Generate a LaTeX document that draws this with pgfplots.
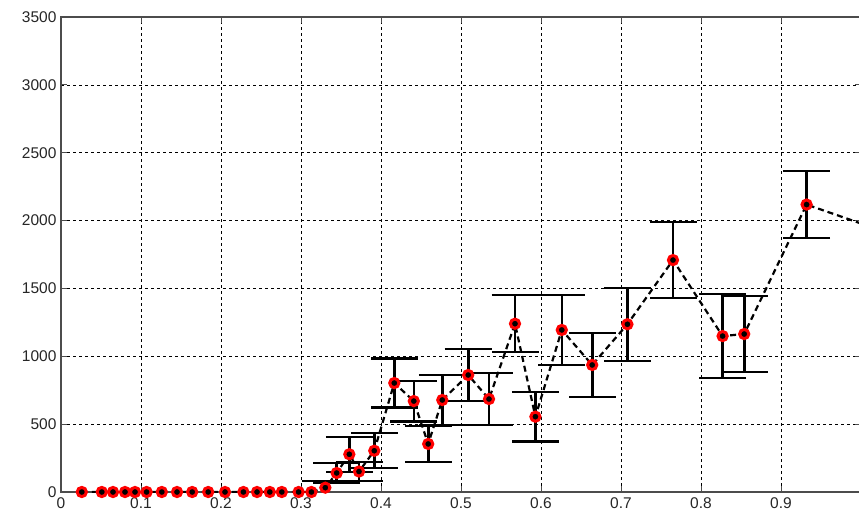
\documentclass[border=0pt]{standalone}
\usepackage{pgfplots}
\pgfplotsset{compat=1.18}
\usepackage{pgfplotstable}
\usepackage{fontspec}
\setmainfont{Liberation Sans}
\pgfplotstableread{
x y e
0.3304 32 50
0.3446 140 75
0.3604 278 130
0.3725 151 72
0.3916 304 130
0.4166 803 180
0.441 670 150
0.459 354 135
0.4766 678 184
0.509 862 190
0.535 685 190
0.5675 1240 209
0.593 555 183
0.626 1194 258
0.664 936 236
0.708 1236 268
0.765 1709 278
0.827 1149 308
0.854 1164 279
0.932 2118 245
1.03 1917 250
}\errdata
\pgfplotstableread{
x y
0.026 0
0.051 0
0.065 0
0.080 0
0.0925 0
0.107 0
0.126 0
0.145 0
0.164 0
0.184 0
0.205 0
0.228 0
0.245 0
0.261 0
0.276 0
0.297 0
0.313 0
0.3304 32
0.3446 140
0.3604 278
0.3725 151
0.3916 304
0.4166 803
0.441 670
0.459 354
0.4766 678
0.509 862
0.535 685
0.5675 1240
0.593 555
0.626 1194
0.664 936
0.708 1236
0.765 1709
0.827 1149
0.854 1164
0.932 2118
1.03 1917
}\alldata
\begin{document}
\begin{tikzpicture}
\begin{axis}[
  at={(61pt,25pt)}, anchor=south west,
  scale only axis, width=800pt, height=475pt,
  xmin=0, xmax=1, ymin=0, ymax=3500,
  xtick={0,0.1,0.2,0.3,0.4,0.5,0.6,0.7,0.8,0.9},
  xticklabels={0,0.1,0.2,0.3,0.4,0.5,0.6,0.7,0.8,0.9},
  ytick={0,500,1000,1500,2000,2500,3000,3500},
  /pgf/number format/assume math mode=true,
  /pgf/number format/1000 sep={},
  tick label style={font=\fontsize{15.5}{18}\selectfont, text=black!85},
  grid=major,
  grid style={black, line width=0.7pt, dash pattern=on 3pt off 3pt},
  axis line style={black!70, line width=1.2pt},
  tick align=inside, major tick length=6pt,
  tick style={black!70, line width=1pt},
  xticklabel style={yshift=-2pt},
  yticklabel style={xshift=-1pt},
]
\addplot[only marks, mark=none,
  error bars/.cd, y dir=both, y explicit,
  error bar style={solid, black, line width=2.6pt},
  error mark options={rotate=90, black, mark size=23.5pt, line width=2.2pt}]
  table[x=x, y=y, y error=e] {\errdata};
\addplot[black, line width=2.2pt, dash pattern=on 6pt off 4pt,
  mark=*, mark size=4.6pt,
  mark options={solid, fill=black, draw=red, line width=3pt}]
  table[x=x, y=y] {\alldata};
\end{axis}
\pgfresetboundingbox
\useasboundingbox (0,0) rectangle (859pt,517pt);
\end{tikzpicture}
\end{document}
